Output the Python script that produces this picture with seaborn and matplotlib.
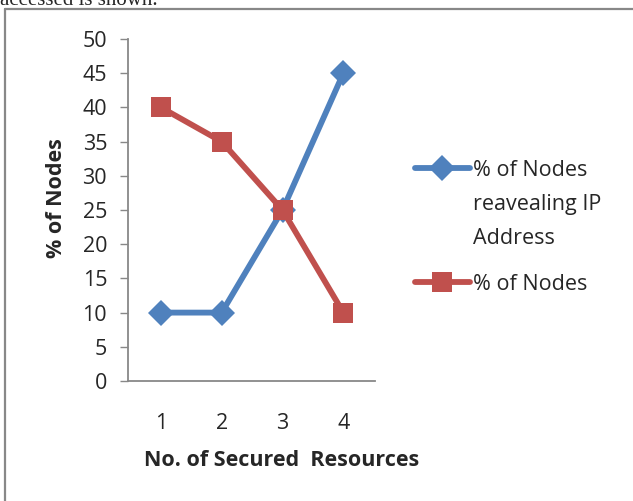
import matplotlib
matplotlib.use("Agg")
import matplotlib.pyplot as plt
from matplotlib.lines import Line2D
import seaborn as sns
import pandas as pd

# Data
resources = [1, 2, 3, 4]
revealing_ip = [10, 10, 25, 45]
nodes = [40, 35, 25, 10]
series_names = ["% of Nodes\nreavealing IP\nAddress", "% of Nodes"]
y_ticks = [0, 5, 10, 15, 20, 25, 30, 35, 40, 45, 50]

blue = "#4F81BD"
red = "#C0504D"
grey = "#888888"
FS = 15.5

sns.set_style("white")
plt.rcParams["font.family"] = ["Open Sans", "DejaVu Sans"]

df = pd.DataFrame({
    "x": resources * 2,
    "y": revealing_ip + nodes,
    "series": [series_names[0]] * 4 + [series_names[1]] * 4,
})

fig = plt.figure(figsize=(6.33, 5.01), dpi=100)
ax = fig.add_axes([128 / 633, 1 - 381 / 501, 247 / 633, 342 / 501])

sns.lineplot(
    data=df, x="x", y="y", hue="series", style="series",
    palette={series_names[0]: blue, series_names[1]: red},
    markers={series_names[0]: "D", series_names[1]: "s"},
    dashes=False, linewidth=4.2, markersize=13, markeredgewidth=0,
    ax=ax, legend=False,
)
# squares a touch larger than diamonds
for line in ax.get_lines():
    if line.get_marker() == "s":
        line.set_markersize(14.5)

ax.set_xlim(0.46, 4.52)
ax.set_ylim(0, 50)
ax.set_yticks(y_ticks)
ax.set_xticks(resources)
ax.tick_params(axis="y", length=6, width=1, color=grey, labelsize=FS, pad=9,
               direction="out", left=True)
ax.tick_params(axis="x", length=0, labelsize=FS, pad=23)
for s in ["top", "right"]:
    ax.spines[s].set_visible(False)
for s in ["left", "bottom"]:
    ax.spines[s].set_color(grey)
    ax.spines[s].set_linewidth(1.3)

ax.set_xlabel("")
ax.set_ylabel("")
fig.text(56 / 633, 1 - 198 / 501, "% of Nodes", rotation=90, ha="center",
         va="center", fontsize=FS, fontweight="bold")
fig.text(282 / 633, 1 - 460 / 501, "No. of Secured  Resources", ha="center",
         va="center", fontsize=FS, fontweight="bold")

# Legend drawn as figure artists so each key sits on its first text line
def legend_entry(y_px, color, marker, msize, label):
    y = 1 - y_px / 501
    fig.add_artist(Line2D([415 / 633, 470 / 633], [y, y], color=color, lw=4.2,
                          transform=fig.transFigure))
    fig.add_artist(Line2D([442 / 633], [y], color=color, marker=marker,
                          markersize=msize, markeredgewidth=0, lw=0,
                          transform=fig.transFigure))
    fig.text(473 / 633, y + 8 / 501, label, ha="left", va="top", fontsize=FS,
             linespacing=1.8, transform=fig.transFigure)

legend_entry(168, blue, "D", 13, series_names[0])
legend_entry(282, red, "s", 14.5, series_names[1])

# Frame lines around the figure area
fig.add_artist(Line2D([5 / 633, 1], [1 - 9 / 501] * 2, color=grey, lw=1.6,
                      transform=fig.transFigure))
fig.add_artist(Line2D([5 / 633] * 2, [0, 1 - 9 / 501], color=grey, lw=1.6,
                      transform=fig.transFigure))

# Caption text from the surrounding page
fig.text(0, 1 - 5 / 501, "accessed is shown.", family="Liberation Serif",
         fontsize=15, va="baseline", ha="left")

fig.savefig("out.png", dpi=100)
